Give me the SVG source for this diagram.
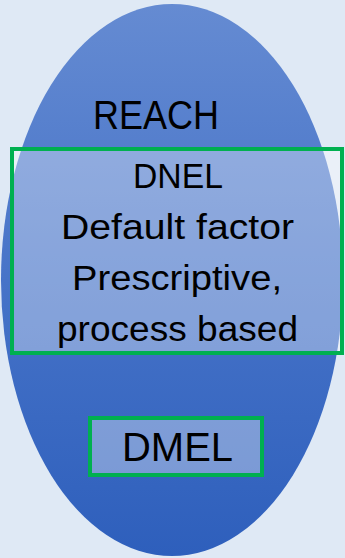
<svg xmlns="http://www.w3.org/2000/svg" width="345" height="558" viewBox="0 0 345 558">
<defs>
<linearGradient id="g" x1="0" y1="0" x2="0" y2="1">
<stop offset="0" stop-color="#658bd2"/>
<stop offset="0.5" stop-color="#4673c8"/>
<stop offset="1" stop-color="#2e5fbc"/>
</linearGradient>
</defs>
<style>
.t{font-family:"Liberation Sans",Arial,sans-serif;fill:#000;text-anchor:middle}
.box{fill:#ffffff;fill-opacity:0.35;stroke:#00b050;stroke-width:4}
</style>
<rect width="345" height="558" fill="#dfe9f5"/>
<g id="reach">
<ellipse cx="172" cy="280" rx="171" ry="276" fill="url(#g)"/>
<text class="t" x="156" y="129" font-size="40" textLength="126" lengthAdjust="spacingAndGlyphs">REACH</text>
</g>
<g id="dnel">
<rect class="box" x="12" y="149" width="330" height="204"/>
<text class="t" x="178" y="188" font-size="35" textLength="90" lengthAdjust="spacingAndGlyphs">DNEL</text>
<text class="t" x="177.5" y="239" font-size="35" textLength="233" lengthAdjust="spacingAndGlyphs">Default factor</text>
<text class="t" x="177" y="290" font-size="35" textLength="210" lengthAdjust="spacingAndGlyphs">Prescriptive,</text>
<text class="t" x="177.5" y="341" font-size="35" textLength="241" lengthAdjust="spacingAndGlyphs">process based</text>
</g>
<g id="dmel">
<rect class="box" x="90" y="418" width="172" height="57"/>
<text class="t" x="177.5" y="461" font-size="40" textLength="111" lengthAdjust="spacingAndGlyphs">DMEL</text>
</g>
<g id="connectors"/>
</svg>
